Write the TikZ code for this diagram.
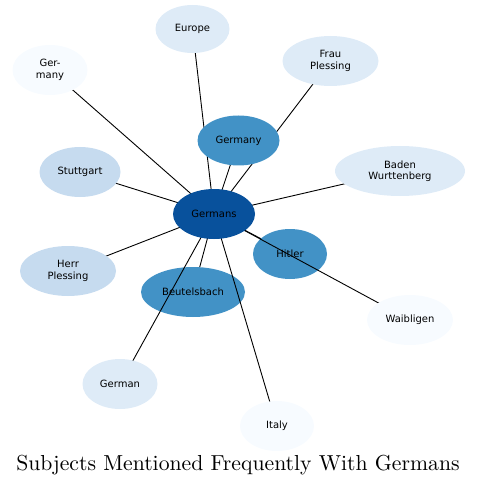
\documentclass[tikz,border=0pt]{standalone}
\usepackage{fontspec}
\newfontfamily\labfont{DejaVu Sans}
\newfontfamily\titlefont{lmroman10-regular.otf}
\usetikzlibrary{shapes.geometric}
\definecolor{cA}{HTML}{08519C}
\definecolor{cB}{HTML}{4292C6}
\definecolor{cC}{HTML}{C6DBEF}
\definecolor{cD}{HTML}{DEEBF7}
\definecolor{cE}{HTML}{F7FBFF}
\tikzset{
  ent/.style={ellipse, inner sep=0pt, minimum height=50pt, font=\labfont\fontsize{10}{11.5}\selectfont, align=center, text=black},
  link/.style={draw=black, line width=0.9pt},
}
\begin{document}
\begin{tikzpicture}[x=1pt,y=-1pt]
\useasboundingbox (0,0) rectangle (477,486);
% centres
\coordinate (pGermans) at (214,214);
\coordinate (pGermany) at (238.5,140.5);
\coordinate (pHitler) at (290,254);
\coordinate (pBeutels) at (193,292);
\coordinate (pEurope) at (192.5,29);
\coordinate (pGerMany) at (50,70);
\coordinate (pFrau) at (330.5,61);
\coordinate (pBaden) at (400,171);
\coordinate (pStutt) at (80,172);
\coordinate (pHerr) at (68,271);
\coordinate (pGerman) at (120,384);
\coordinate (pItaly) at (277,426);
\coordinate (pWaib) at (410,320);
% edges hidden below middle nodes
\draw[link] (pGermans) -- (pBeutels);
\draw[link] (pGermans) -- (pHitler);
\node[ent, fill=cB, minimum width=74pt] (Hitler) at (pHitler) {Hitler};
\node[ent, fill=cB, minimum width=104pt] (Beutels) at (pBeutels) {Beutelsbach};
% other edges
\draw[link] (pGermans) -- (pGermany);
\draw[link] (pGermans) -- (pEurope);
\draw[link] (pGermans) -- (pGerMany);
\draw[link] (pGermans) -- (pFrau);
\draw[link] (pGermans) -- (pBaden);
\draw[link] (pGermans) -- (pStutt);
\draw[link] (pGermans) -- (pHerr);
\draw[link] (pGermans) -- (pGerman);
\draw[link] (pGermans) -- (pItaly);
\draw[link] (pGermans) -- (pWaib);
% nodes
\node[ent, fill=cB, minimum width=82pt] (Germany) at (pGermany) {Germany};
\node[ent, fill=cD, minimum width=74pt, minimum height=48pt] (Europe) at (pEurope) {Europe};
\node[ent, fill=cE, minimum width=75pt] (GerMany) at (pGerMany) {Ger-\\many};
\node[ent, fill=cD, minimum width=96pt] (Frau) at (pFrau) {Frau\\Plessing};
\node[ent, fill=cD, minimum width=130pt] (Baden) at (pBaden) {Baden\\Wurttenberg};
\node[ent, fill=cC, minimum width=81pt] (Stutt) at (pStutt) {Stuttgart};
\node[ent, fill=cC, minimum width=96pt] (Herr) at (pHerr) {Herr\\Plessing};
\node[ent, fill=cD, minimum width=75pt] (German) at (pGerman) {German};
\node[ent, fill=cE, minimum width=74pt] (Italy) at (pItaly) {Italy};
\node[ent, fill=cE, minimum width=86pt] (Waib) at (pWaib) {Waibligen};
\node[ent, fill=cA, minimum width=82pt] (Germans) at (pGermans) {Germans};
\node[anchor=base, font=\titlefont\fontsize{21.7}{24}\selectfont] (title) at (238,470) {Subjects Mentioned Frequently With Germans};
\end{tikzpicture}
\end{document}
